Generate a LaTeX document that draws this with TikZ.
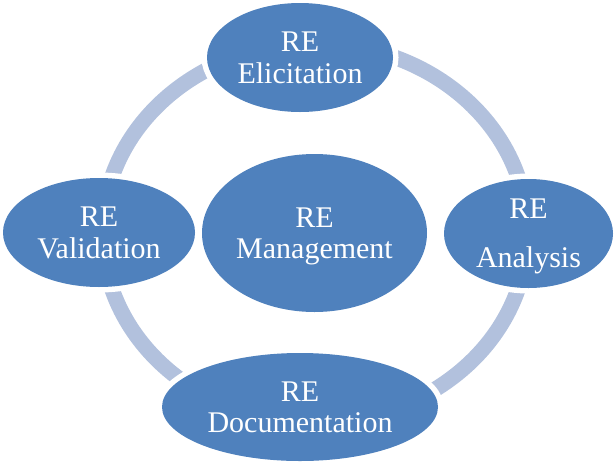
\documentclass[tikz,border=0pt]{standalone}
\usepackage{fontspec}
\setmainfont{Liberation Serif}
\usetikzlibrary{shapes.geometric}
\definecolor{reblue}{HTML}{4F81BD}
\definecolor{ringblue}{HTML}{B2C1DD}
\tikzset{
  phase/.style={ellipse, fill=reblue, inner sep=0pt, outer sep=0pt,
    preaction={draw=white, line width=11pt},
    text=white, align=center, text depth=0pt,
    font=\fontsize{30}{31.5}\selectfont},
  ring/.style={draw=ringblue, line width=15.5pt}
}
\begin{document}
\begin{tikzpicture}[x=1pt,y=-1pt]
\useasboundingbox (0,0) rectangle (616,464);
\draw[ring] (315,233) ellipse [x radius=212.5pt, y radius=189.5pt];
\node[phase, minimum width=186pt, minimum height=109pt] (elic) at (300,57.5) {RE\\Elicitation};
\node[phase, minimum width=192pt, minimum height=109pt] (valid) at (99,232.5) {RE\\Validation};
\node[phase, minimum width=225pt, minimum height=158pt] (mgmt) at (314.5,233) {RE\\Management};
\node[phase, minimum width=169pt, minimum height=109pt] (anal) at (528.5,233.5) {RE\\[17.5pt]Analysis};
\node[phase, minimum width=276pt, minimum height=108pt] (doc) at (300,407) {RE\\Documentation};
\end{tikzpicture}
\end{document}
